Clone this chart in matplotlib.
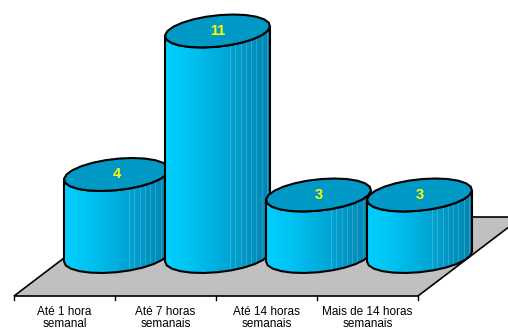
import numpy as np
import matplotlib.pyplot as plt
from matplotlib.patches import Polygon
from matplotlib.colors import LinearSegmentedColormap

# data
categories = ['Até 1 hora\nsemanal', 'Até 7 horas\nsemanais',
              'Até 14 horas\nsemanais', 'Mais de 14 horas\nsemanais']
values = [4, 11, 3, 3]

# projection settings (screen pixels)
X0, Y0 = 14, 296          # front-left corner of the floor
CAT_W = 101               # width of one category slot
DX, DY = 104, 79          # full depth vector of the floor
UNIT = 20.5               # pixels per value unit
R, A, B = 50, 16, 16.5    # cylinder x radius, depth skew, depth half height


def project(i, depth, v):
    x = X0 + (i + 0.5) * CAT_W + depth * DX
    y = Y0 - depth * DY - v * UNIT
    return x, y


def ellipse(cx, cy, t):
    return cx + R * np.cos(t) + A * np.sin(t), cy - B * np.sin(t)


plt.rcParams['font.family'] = ['Liberation Sans', 'DejaVu Sans']
fig = plt.figure(figsize=(5.08, 3.29), dpi=100)
ax = fig.add_axes([0, 0, 1, 1])
ax.set_xlim(0, 508)
ax.set_ylim(329, 0)
ax.axis('off')

# floor
n = len(categories)
fl = [project(-0.5, 0, 0), project(n - 0.5, 0, 0), project(n - 0.5, 1, 0), project(-0.5, 1, 0)]
ax.add_patch(Polygon(fl, closed=True, facecolor='#C0C0C0', edgecolor='black', lw=1.2, zorder=1))

# ticks and labels
for k in range(n + 1):
    x, y = project(k - 0.5, 0, 0)
    ax.plot([x, x], [y, y + 4], color='black', lw=1, zorder=1)
for i, lab in enumerate(categories):
    x, y = project(i, 0, 0)
    ax.text(x, y + 10, lab, ha='center', va='top', fontsize=8.5, linespacing=1.05)

cmap = LinearSegmentedColormap.from_list('cyl', ['#00D0FF', '#00C2F2', '#00AEDD', '#0098C6', '#0086B2'])
phi = np.arctan2(A, R)
for i, v in enumerate(values):
    bx, by = project(i, 0.5, 0)
    tx, ty = project(i, 0.5, v)
    t = np.linspace(np.pi + phi, 2 * np.pi + phi, 13)
    bxs, bys = ellipse(bx, by, t)
    txs, tys = ellipse(tx, ty, t[::-1])
    body = np.column_stack([np.r_[bxs, txs], np.r_[bys, tys]])
    patch = Polygon(body, closed=True, facecolor='none', edgecolor='black', lw=1.5, zorder=3 + i * 3)
    ax.add_patch(patch)
    grad = np.linspace(0, 1, 256).reshape(1, -1)
    x1, x2 = body[:, 0].min(), body[:, 0].max()
    y1, y2 = body[:, 1].min(), body[:, 1].max()
    im = ax.imshow(grad, cmap=cmap, extent=(x1, x2, y2, y1), aspect='auto',
                   interpolation='bilinear', zorder=2 + i * 3)
    im.set_clip_path(patch)
    # faint facet stripes on the shaded side
    for f in np.linspace(0.62, 0.97, 8):
        sx = x1 + f * (x2 - x1)
        ax.plot([sx, sx], [y1, y2], color='white', lw=0.5, alpha=0.25,
                zorder=2.5 + i * 3, clip_path=patch)
    # top
    tt = np.linspace(0, 2 * np.pi, 25)
    exs, eys = ellipse(tx, ty, tt)
    ax.add_patch(Polygon(np.column_stack([exs, eys]), closed=True, facecolor='#0099C6',
                         edgecolor='black', lw=1.5, zorder=4 + i * 3))
    ax.text(tx, ty, str(v), ha='center', va='center', color='#FFFF00',
            fontsize=10.5, fontweight='bold', zorder=4.5 + i * 3)

fig.savefig('out.png', dpi=100)
